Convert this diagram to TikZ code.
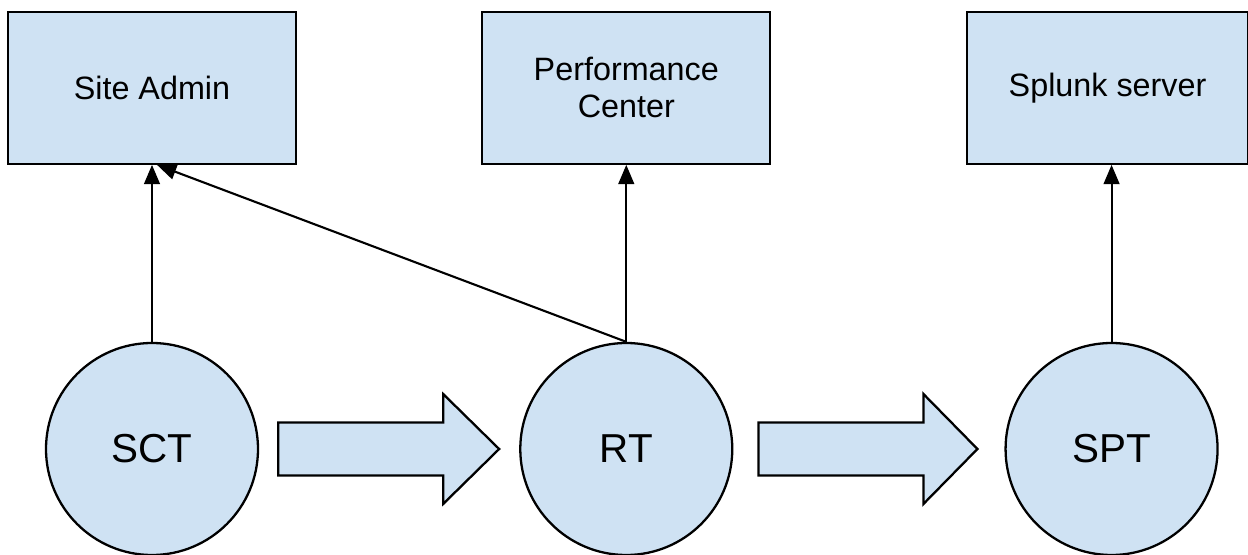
\documentclass[tikz,border=0pt]{standalone}
\usepackage{fontspec}
\setmainfont{Liberation Sans}
\usepackage{xcolor}
\usetikzlibrary{arrows.meta,positioning,calc}
\definecolor{paleblue}{HTML}{CFE2F3}

\begin{document}
\begin{tikzpicture}[
  sysbox/.style={rectangle,draw=black,fill=paleblue,line width=1.3pt,align=center,minimum width=5.76cm,minimum height=3.04cm,font=\fontsize{18.4}{21}\selectfont},
  proc/.style={circle,draw=black,fill=paleblue,line width=1.3pt,minimum size=4.24cm,inner sep=0pt,font=\fontsize{23}{26}\selectfont},
  flow/.style={draw=black,fill=paleblue,line width=1.3pt,line join=miter},
  link/.style={-{Triangle[length=11pt,width=9pt]},line width=1.2pt}
]
\useasboundingbox (-3.04,-2.1) rectangle (21.92,8.98);
\node[proc] (sct) at (0,0) {SCT};
\node[proc,right=5.2cm of sct] (rt) {RT};
\node[proc,right=5.42cm of rt] (spt) {SPT};
\node[sysbox,above=3.54cm of sct] (admin) {Site Admin};
\node[sysbox,above=3.54cm of rt] (perf) {Performance\\Center};
\node[sysbox,minimum width=5.62cm,above=3.54cm of spt,xshift=-0.08cm] (splunk) {Splunk server};

% block arrows between the stages
\draw[flow] ($(sct.east)+(0.38,0)$) ++(0,0.53) -- ++(3.3,0) -- ++(0,0.57) -- ++(1.12,-1.1) -- ++(-1.12,-1.1) -- ++(0,0.57) -- ++(-3.3,0) -- cycle;
\draw[flow] ($(rt.east)+(0.5,0)$) ++(0,0.53) -- ++(3.3,0) -- ++(0,0.57) -- ++(1.08,-1.1) -- ++(-1.08,-1.1) -- ++(0,0.57) -- ++(-3.3,0) -- cycle;

\draw[link] (sct) -- (admin);
\draw[link] (rt) -- (perf);
\draw[link] (spt) -- (spt |- splunk.south);
\draw[link] (rt.north) -- ($(admin.south)+(0.1,0)$);
\end{tikzpicture}
\end{document}
